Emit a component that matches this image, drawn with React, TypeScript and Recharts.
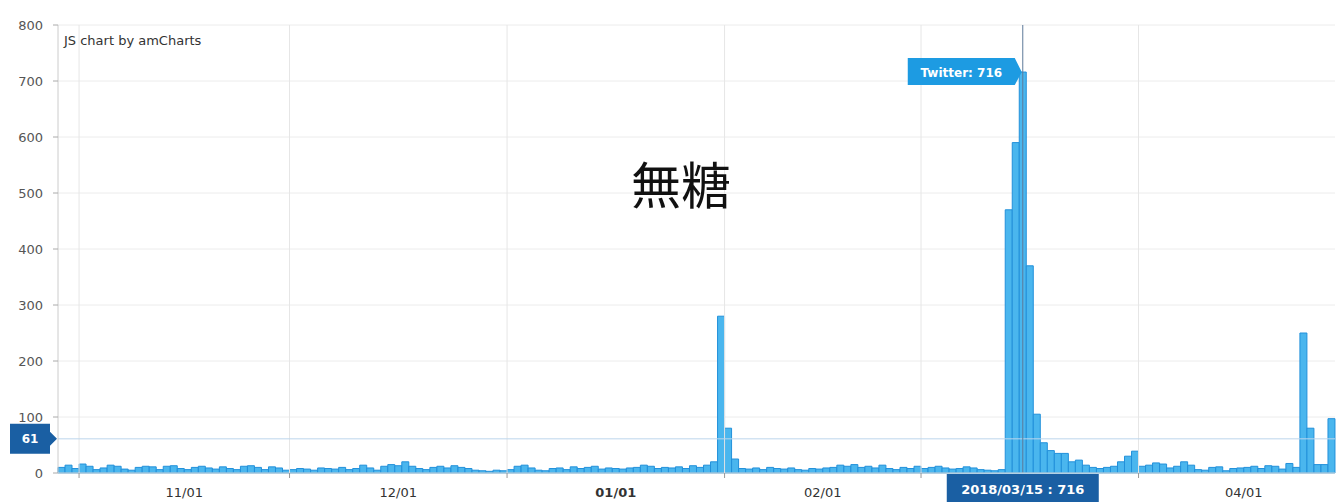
import React from 'react';
import { BarChart, Bar, XAxis, YAxis, CartesianGrid, ReferenceLine, ReferenceDot } from 'recharts';

// daily Twitter mentions, 2017/10/29 .. 2018/04/28
const octCounts = [10, 14, 8];
const novCounts = [16, 12, 6, 9, 14, 12, 7, 5, 10, 12, 11, 6, 12, 13, 8, 6, 10, 12, 9, 7, 11, 8, 6, 12, 13, 10, 6, 11, 9, 5];
const decCounts = [6, 8, 7, 5, 9, 8, 7, 10, 6, 8, 14, 9, 5, 12, 15, 13, 20, 12, 8, 6, 10, 12, 9, 13, 10, 8, 5, 4, 3, 5, 4];
const janCounts = [6, 12, 14, 9, 5, 4, 8, 9, 6, 11, 8, 10, 12, 7, 9, 8, 7, 9, 10, 14, 12, 8, 10, 9, 11, 8, 13, 10, 14, 20, 280];
const febCounts = [80, 25, 8, 7, 9, 6, 10, 8, 7, 9, 6, 5, 8, 7, 9, 10, 14, 12, 15, 10, 12, 9, 14, 8, 6, 10, 8, 12];
const marCounts = [8, 10, 12, 9, 7, 8, 11, 9, 6, 5, 4, 6, 470, 590, 716, 370, 105, 54, 40, 35, 35, 20, 23, 14, 10, 8, 10, 12, 20, 30, 39];
const aprCounts = [12, 14, 18, 16, 9, 12, 20, 14, 6, 5, 10, 11, 4, 8, 9, 10, 12, 8, 13, 12, 7, 17, 10, 250, 80, 15, 15, 97];

const yTicks = [0, 100, 200, 300, 400, 500, 600, 700, 800];

const cursorDate = '2018/03/15';
const cursorValue = 61;

const pad = (n: number) => String(n).padStart(2, '0');

const counts = [...octCounts, ...novCounts, ...decCounts, ...janCounts, ...febCounts, ...marCounts, ...aprCounts];

const data = counts.map((twitter, i) => {
  const d = new Date(2017, 9, 29 + i);
  return {
    day: i,
    twitter,
    year: d.getFullYear(),
    month: d.getMonth(),
    dom: d.getDate(),
    date: `${d.getFullYear()}/${pad(d.getMonth() + 1)}/${pad(d.getDate())}`,
  };
});

const cursorPoint = data.find((d) => d.date === cursorDate)!;

// month boundaries (grid) and month centres (labels); the cursor balloon hides its own month label
const monthStarts = data.filter((d) => d.dom === 1);
const gridTicks = monthStarts.map((d) => d.day - 0.5);
const labelTicks = monthStarts
  .filter((d) => d.month !== cursorPoint.month)
  .map((d) => {
    const len = new Date(d.year, d.month + 1, 0).getDate();
    return { value: d.day - 0.5 + len / 2, label: `${pad(d.month + 1)}/01`, bold: d.month === 0 };
  });
const labelMap = new Map(labelTicks.map((t) => [t.value, t]));
const xTicks = [...gridTicks, ...labelTicks.map((t) => t.value)];

const FONT = '"DejaVu Sans", Verdana, sans-serif';

function DayTick(props: any) {
  const { x, y, payload } = props;
  const t = labelMap.get(payload.value);
  if (!t) {
    return <line x1={x} x2={x} y1={y} y2={y + 5} stroke="#999" />;
  }
  return (
    <text x={x} y={y + 24} textAnchor="middle" fontSize={13} fontFamily={FONT} fill="#333" fontWeight={t.bold ? 'bold' : 'normal'}>
      {t.label}
    </text>
  );
}

function TwitterBalloon(props: any) {
  const { cx, cy } = props;
  const l = cx - 115;
  const r = cx - 8;
  const t = cy - 14;
  const b = cy + 13;
  return (
    <g>
      <path d={`M${l},${t} L${r},${t} L${cx - 1},${cy} L${r},${b} L${l},${b} Z`} fill="#1d9be2" />
      <text x={(l + r) / 2} y={cy + 4.5} textAnchor="middle" fontSize={12} fontWeight="bold" fontFamily={FONT} fill="#fff">
        {`Twitter: ${cursorPoint.twitter}`}
      </text>
    </g>
  );
}

function BottomBalloon(props: any) {
  const { viewBox } = props;
  const cx = viewBox.x;
  const top = viewBox.y + viewBox.height + 1;
  return (
    <g>
      <rect x={cx - 76} y={top} width={152} height={30} fill="#1a5fa3" />
      <text x={cx} y={top + 20} textAnchor="middle" fontSize={13} fontWeight="bold" fontFamily={FONT} fill="#fff">
        {`${cursorPoint.date} : ${cursorPoint.twitter}`}
      </text>
    </g>
  );
}

function LeftBalloon(props: any) {
  const { viewBox } = props;
  const tip = viewBox.x - 1;
  const cy = viewBox.y;
  const r = tip - 7;
  const l = 10;
  return (
    <g>
      <path d={`M${l},${cy - 15} L${r},${cy - 15} L${r},${cy - 7} L${tip},${cy} L${r},${cy + 7} L${r},${cy + 15} L${l},${cy + 15} Z`} fill="#1a5fa3" />
      <text x={(l + r) / 2} y={cy + 4.5} textAnchor="middle" fontSize={12} fontWeight="bold" fontFamily={FONT} fill="#fff">
        {cursorValue}
      </text>
    </g>
  );
}

export default function App() {
  return (
    <div style={{ position: 'absolute', left: 0, top: 0, width: 1339, height: 502, background: '#fff', overflow: 'hidden' }}>
      <BarChart width={1339} height={502} data={data} margin={{ top: 25, right: 4, bottom: 0, left: 0 }} barCategoryGap={0}>
        <CartesianGrid vertical={false} stroke="#ececec" />
        {gridTicks.map((g) => (
          <ReferenceLine key={g} x={g} stroke="#e6e6e6" />
        ))}
        <YAxis
          domain={[0, 800]}
          ticks={yTicks}
          width={58}
          tickSize={5}
          tickMargin={10}
          tick={{ fontSize: 13, fontFamily: FONT, fill: '#555' }}
          stroke="#ccc"
          tickLine={{ stroke: '#aaa' }}
        />
        <XAxis
          dataKey="day"
          type="number"
          domain={[-0.5, counts.length - 0.5]}
          ticks={xTicks}
          interval={0}
          height={29}
          tickSize={0}
          tickMargin={0}
          tickLine={false}
          tick={<DayTick />}
          stroke="#ddd"
        />
        <Bar dataKey="twitter" fill="#4ab6ee" stroke="#2290da" strokeWidth={1} barSize={7} isAnimationActive={false} />
        <ReferenceLine y={cursorValue} stroke="#bcd5ec" label={LeftBalloon} />
        <ReferenceLine x={cursorPoint.day} stroke="#5d7a99" label={BottomBalloon} />
        <ReferenceDot x={cursorPoint.day} y={cursorPoint.twitter} r={0} shape={TwitterBalloon} />
      </BarChart>
      <div style={{ position: 'absolute', left: 64, top: 33, fontFamily: FONT, fontSize: 13, color: '#333', whiteSpace: 'nowrap' }}>
        JS chart by amCharts
      </div>
      <div style={{ position: 'absolute', left: 631, top: 157, fontFamily: '"Noto Sans CJK JP", sans-serif', fontSize: 50, lineHeight: 1, color: '#111' }}>
        無糖
      </div>
    </div>
  );
}
